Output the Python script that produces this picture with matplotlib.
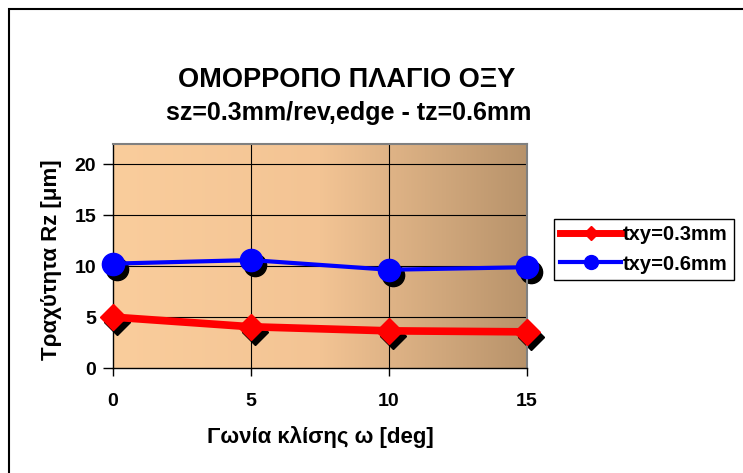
import numpy as np
import matplotlib
matplotlib.use("Agg")
from matplotlib import pyplot as plt
from matplotlib import transforms
from matplotlib.lines import Line2D
from matplotlib.patches import Rectangle
from matplotlib.colors import LinearSegmentedColormap

plt.rcParams['font.family'] = ['Liberation Sans', 'DejaVu Sans']
plt.rcParams['font.weight'] = 'bold'

# data
angles = [0, 5, 10, 15]
rz_txy03 = [5.0, 4.05, 3.65, 3.55]
rz_txy06 = [10.25, 10.6, 9.65, 9.9]
labels = ['txy=0.3mm', 'txy=0.6mm']
x_ticks = [0, 5, 10, 15]
y_ticks = [0, 5, 10, 15, 20]

W, H = 743, 473
fig = plt.figure(figsize=(W / 100, H / 100), dpi=100)
fig.patch.set_facecolor('white')

# outer chart frame (right and bottom edges lie outside the picture)
fig.patches.append(Rectangle((9 / W, -0.1), 1.2, 1.1 - 9 / H, transform=fig.transFigure,
                             fill=False, edgecolor='black', lw=1.5))

left, right, top, bottom = 113, 527, 144, 368
ax = fig.add_axes([left / W, 1 - bottom / H, (right - left) / W, (bottom - top) / H])

# gradient plot area
cmap = LinearSegmentedColormap.from_list('bg', ['#FACD9C', '#F3C494', '#B8936B'])
grad = np.linspace(0, 1, 256).reshape(1, -1)
ax.imshow(grad, cmap=cmap, aspect='auto', extent=[0, 1, 0, 1],
          transform=ax.transAxes, zorder=0)

ax.set_xlim(0, 15)
ax.set_ylim(0, 22)
ax.set_xticks(x_ticks)
ax.set_yticks(y_ticks)

for y in y_ticks[1:]:
    ax.axhline(y, color='black', lw=0.8, zorder=1)
for x in x_ticks[1:-1]:
    ax.axvline(x, color='black', lw=0.8, zorder=1)

for s in ['top', 'right']:
    ax.spines[s].set_color('#808080')
    ax.spines[s].set_linewidth(1.5)
for s in ['left', 'bottom']:
    ax.spines[s].set_color('black')
    ax.spines[s].set_linewidth(1.0)

ax.tick_params(axis='y', length=7, width=1, pad=5, labelsize=14)
ax.tick_params(axis='x', length=6, width=1, pad=12, labelsize=14)
for t in ax.get_xticklabels() + ax.get_yticklabels():
    t.set_fontweight('bold')

# marker shadows, shifted down-right
shadow = transforms.offset_copy(ax.transData, fig=fig, x=4, y=-5, units='dots')
ax.plot(angles, rz_txy03, linestyle='none', marker='D', ms=13.5, color='black',
        transform=shadow, zorder=2, clip_on=False)
ax.plot(angles, rz_txy06, linestyle='none', marker='o', ms=16, color='black',
        transform=shadow, zorder=2, clip_on=False)

ax.plot(angles, rz_txy03, color='#FF0000', lw=5.5, marker='D', ms=13.5,
        zorder=3, clip_on=False, solid_joinstyle='round')
ax.plot(angles, rz_txy06, color='#0000FF', lw=3, marker='o', ms=16,
        zorder=3, clip_on=False)

fig.text(52 / W, 1 - 260 / H, 'Τραχύτητα Rz [μm]', rotation=90, ha='center', va='center',
         fontsize=16, fontweight='bold')
fig.text(320 / W, 1 - 437 / H, 'Γωνία κλίσης ω [deg]', ha='center', va='center',
         fontsize=16, fontweight='bold')

fig.text(347 / W, 1 - 87 / H, 'ΟΜΟΡΡΟΠΟ ΠΛΑΓΙΟ ΟΞΥ', ha='center', va='baseline',
         fontsize=19.5, fontweight='bold')
fig.text(349 / W, 1 - 120 / H, 'sz=0.3mm/rev,edge - tz=0.6mm', ha='center', va='baseline',
         fontsize=18, fontweight='bold')

handles = [Line2D([], [], color='#FF0000', lw=5, marker='D', ms=7),
           Line2D([], [], color='#0000FF', lw=3, marker='o', ms=10)]
leg = fig.legend(handles, labels, loc='center',
                 bbox_to_anchor=(553 / W, 1 - 283 / H, 182 / W, 67 / H),
                 frameon=True, fancybox=False, edgecolor='black', framealpha=1,
                 prop={'size': 14.5, 'weight': 'bold'}, handlelength=3.0,
                 handletextpad=0.1, borderpad=0.3, labelspacing=0.5, borderaxespad=0)
leg.get_frame().set_linewidth(1.0)

fig.savefig('out.png', dpi=100)
